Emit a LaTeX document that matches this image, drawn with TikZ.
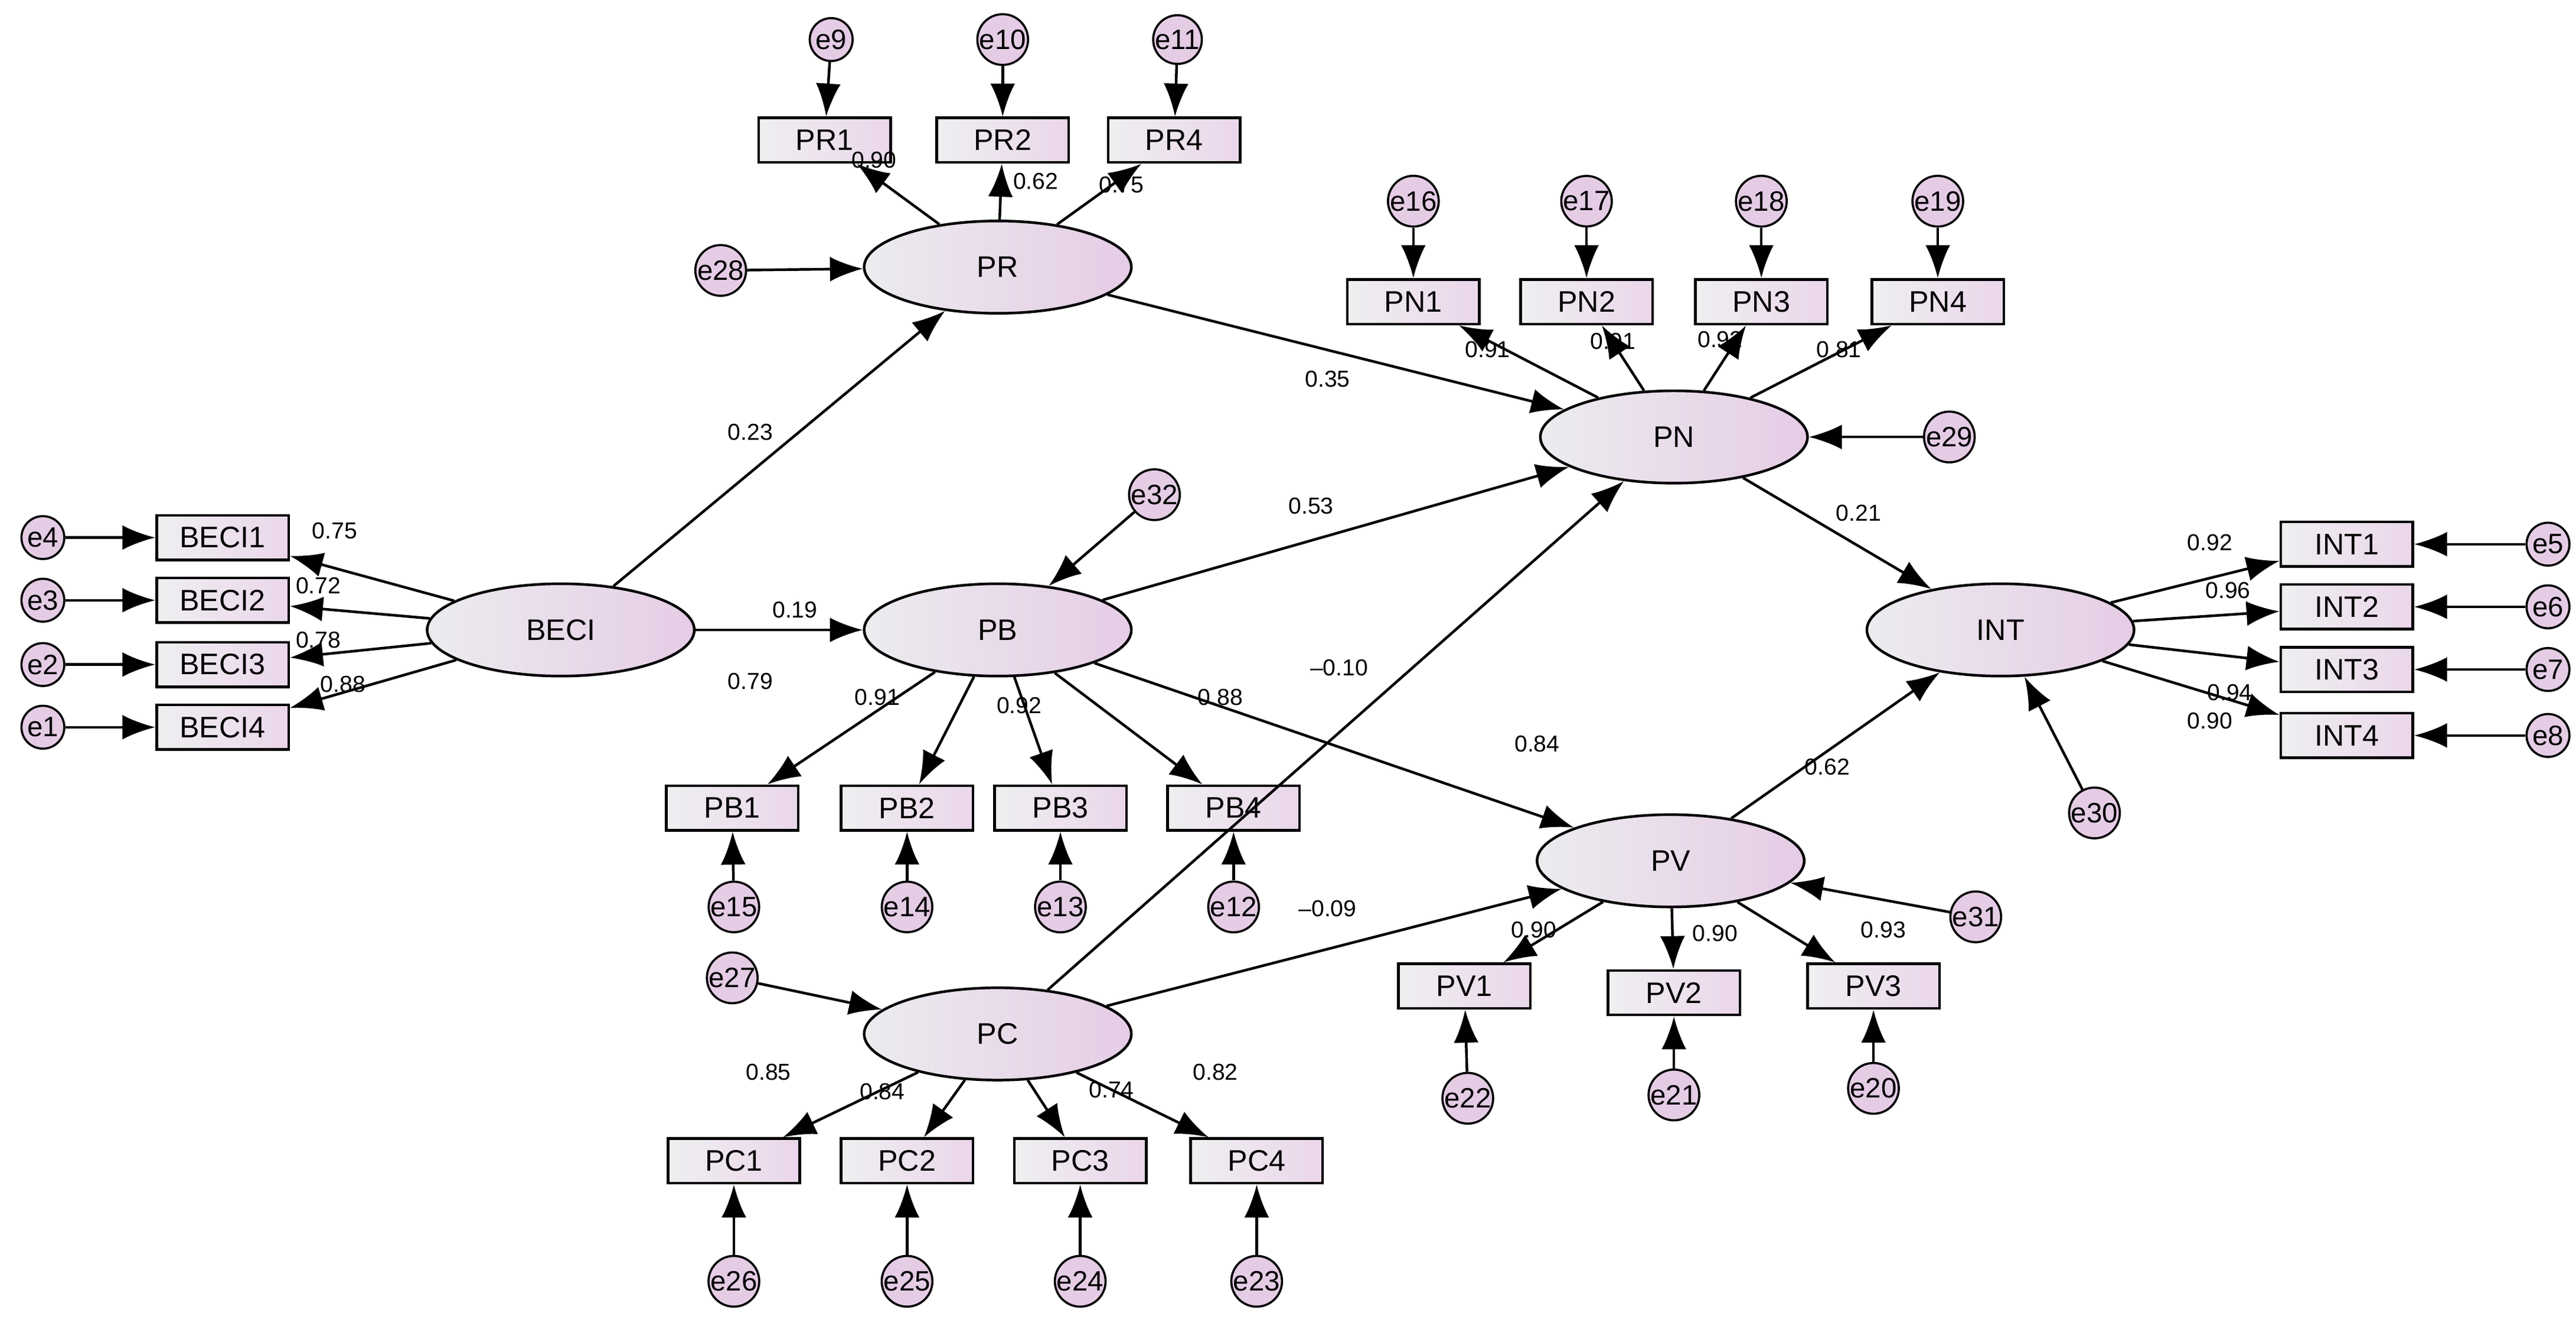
\documentclass[tikz,border=0pt]{standalone}
\usepackage{fontspec}
\setmainfont{Liberation Sans}
\usetikzlibrary{arrows.meta,shapes.geometric}
\begin{document}
\begin{tikzpicture}[x=1pt,y=-1pt,
 lat/.style={ellipse,draw,line width=1.6pt,minimum width=162pt,minimum height=56pt,left color=blue!8!gray!14,right color=violet!20,font=\fontsize{18}{20}\selectfont},
 obs/.style={rectangle,draw,line width=1.6pt,minimum width=80pt,minimum height=27pt,inner sep=0pt,left color=blue!6!gray!12,right color=violet!16,font=\fontsize{18}{20}\selectfont},
 err/.style={circle,draw,line width=1.3pt,minimum size=26pt,inner sep=0pt,fill=violet!20,font=\fontsize{17}{18}\selectfont},
 ar/.style={line width=1.6pt,-{Latex[length=20pt,width=15pt]}},
 lb/.style={font=\fontsize{14}{16}\selectfont,inner sep=1pt}]
\useasboundingbox (0,0) rectangle (1562,802);
% latents
\node[lat] (PR) at (605,162) {PR};
\node[lat] (PN) at (1015,265) {PN};
\node[lat] (BECI) at (340,382) {BECI};
\node[lat] (PB) at (605,382) {PB};
\node[lat] (INT) at (1213,382) {INT};
\node[lat] (PV) at (1013,522) {PV};
\node[lat] (PC) at (605,627) {PC};
% observed
\foreach \n/\x/\y in {PR1/500/85,PR2/608/85,PR4/712/85,PN1/857/183,PN2/962/183,PN3/1068/183,PN4/1175/183,
 BECI1/135/326,BECI2/135/364,BECI3/135/403,BECI4/135/441,PB1/444/490,PB2/550/490,PB3/643/490,PB4/748/490,
 INT1/1423/330,INT2/1423/368,INT3/1423/406,INT4/1423/446,PV1/888/598,PV2/1015/602,PV3/1136/598,
 PC1/445/704,PC2/550/704,PC3/655/704,PC4/762/704}
 \node[obs] (\n) at (\x,\y) {\n};
% errors
\foreach \n/\x/\y in {e9/504/24,e10/608/24,e11/714/24,e28/437/164,e16/857/122,e17/962/122,e18/1068/122,e19/1175/122,
 e29/1182/265,e4/26/326,e3/26/364,e2/26/403,e1/26/441,e32/700/300,e15/445/550,e14/550/550,e13/643/550,e12/748/550,
 e5/1545/330,e6/1545/368,e7/1545/406,e8/1545/446,e30/1270/493,e31/1198/556,e22/890/666,e21/1015/664,e20/1136/660,
 e27/444/593,e26/445/777,e25/550/777,e24/655/777,e23/762/777}
 \node[err] (\n) at (\x,\y) {\n};
% error arrows
\foreach \a/\b in {e9/PR1,e10/PR2,e11/PR4,e28/PR,e16/PN1,e17/PN2,e18/PN3,e19/PN4,e29/PN,e4/BECI1,e3/BECI2,e2/BECI3,e1/BECI4,
 e32/PB,e15/PB1,e14/PB2,e13/PB3,e12/PB4,e5/INT1,e6/INT2,e7/INT3,e8/INT4,e30/INT,e31/PV,e22/PV1,e21/PV2,e20/PV3,
 e27/PC,e26/PC1,e25/PC2,e24/PC3,e23/PC4}
 \draw[ar] (\a) -- (\b);
% loadings
\foreach \a/\b in {PR/PR1,PR/PR2,PR/PR4,PN/PN1,PN/PN2,PN/PN3,PN/PN4,BECI/BECI1,BECI/BECI2,BECI/BECI3,BECI/BECI4,
 PB/PB1,PB/PB2,PB/PB3,PB/PB4,INT/INT1,INT/INT2,INT/INT3,INT/INT4,PV/PV1,PV/PV2,PV/PV3,PC/PC1,PC/PC2,PC/PC3,PC/PC4}
 \draw[ar] (\a) -- (\b);
% structural
\foreach \a/\b in {BECI/PR,BECI/PB,PR/PN,PB/PN,PB/PV,PC/PN,PC/PV,PN/INT,PV/INT}
 \draw[ar] (\a) -- (\b);
% labels
\foreach \t/\x/\y [count=\i] in {0.90/530/97,0.62/628/110,0.75/680/112,0.91/902/212,0.91/978/207,0.92/1043/206,0.81/1115/212,
 0.35/805/230,0.23/455/262,0.53/795/307,0.19/482/370,0.21/1127/311,0.75/203/322,0.72/193/355,0.78/193/388,0.88/208/415,
 0.79/455/413,0.91/532/423,0.92/618/428,0.88/740/423,{–0.10}/812/405,0.84/932/451,0.62/1108/465,{–0.09}/805/551,
 0.92/1340/329,0.96/1351/358,0.94/1352/420,0.90/1340/437,0.90/930/564,0.90/1040/566,0.93/1142/564,
 0.85/466/650,0.84/535/662,0.74/674/661,0.82/737/650}
 \node[lb] (l\i) at (\x,\y) {\t};
\end{tikzpicture}
\end{document}
